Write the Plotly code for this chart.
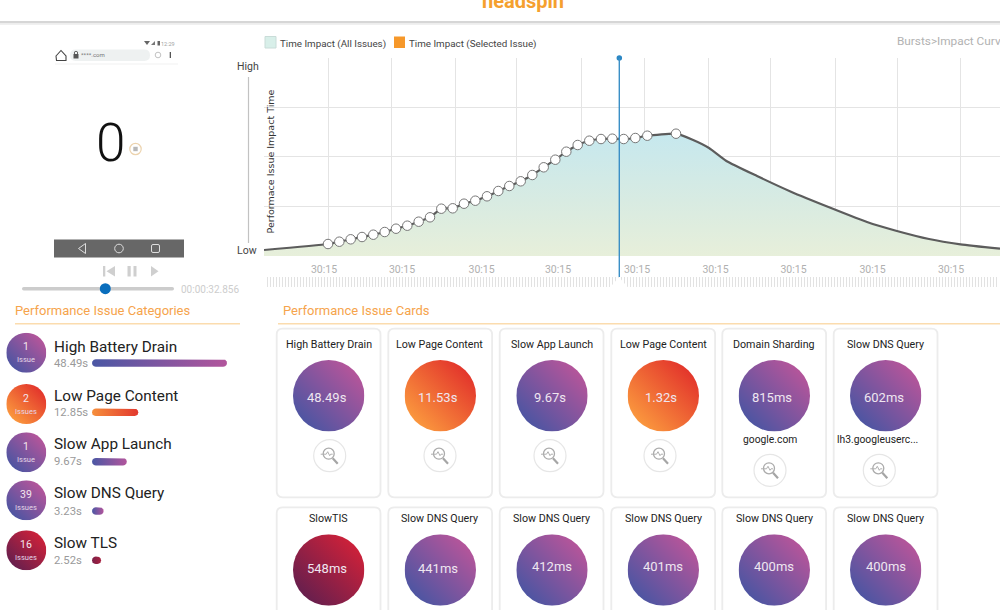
import base64
import math
import plotly.graph_objects as go

# === Data ===
# impact curve, time and impact in chart units
start_time = [0]
start_impact = [6]
marked_time = [64, 75.3, 86.7, 98, 109.3, 120.7, 132, 143.3, 154.7, 166, 177.3, 188.7, 200, 211.3, 223,
               234.3, 245.3, 256.7, 268.3, 279.7, 291.3, 302.3, 313.7, 325.3, 337, 348.3, 359.7, 371.3, 383.3, 412]
marked_impact = [12, 14.3, 16.7, 19, 21.3, 24, 27.3, 30.3, 34.3, 38.7, 47.3, 47.7, 52.3, 55.3, 59.7,
                 65, 70, 74.7, 81, 88.7, 96.3, 104.3, 111, 115.3, 117, 117.3, 117, 118, 120.3, 122.3]
tail_time = [428, 445, 462, 493, 527, 567, 603, 632, 665, 696.5, 736]
tail_impact = [116.5, 108, 95.3, 80, 64.3, 48, 34, 25.3, 17, 11.7, 7.3]
selected_time = 355.3
time_ticks = [60, 138, 217.6, 294, 373, 451.5, 529.5, 608.5, 687]
time_tick_labels = ["30:15"] * 9
time_grid = [64, 127, 191, 252.7, 317, 380, 444, 506, 571, 633, 696.5]
impact_grid = [49.7, 99.3, 149]

# categories on the left (the first bar stops short of its 48.49s)
category_names = ["High Battery Drain", "Low Page Content", "Slow App Launch", "Slow DNS Query", "Slow TLS"]
category_counts = ["1", "2", "1", "39", "16"]
category_units = ["Issue", "Issues", "Issue", "Issues", "Issues"]
category_times = ["48.49s", "12.85s", "9.67s", "3.23s", "2.52s"]
category_bars = [37.5, 12.85, 9.67, 3.23, 2.52]
category_kinds = ["purple", "orange", "purple", "purple", "crimson"]

# cards, two rows of six
card_titles = ["High Battery Drain", "Low Page Content", "Slow App Launch", "Low Page Content",
               "Domain Sharding", "Slow DNS Query",
               "SlowTIS", "Slow DNS Query", "Slow DNS Query", "Slow DNS Query", "Slow DNS Query", "Slow DNS Query"]
card_values = ["48.49s", "11.53s", "9.67s", "1.32s", "815ms", "602ms",
               "548ms", "441ms", "412ms", "401ms", "400ms", "400ms"]
card_kinds = ["purple", "orange", "purple", "orange", "purple", "purple",
              "crimson", "purple", "purple", "purple", "purple", "purple"]
card_hosts = ["", "", "", "", "google.com", "lh3.googleuserc...", "", "", "", "", "", ""]

palettes = {
    "purple": ("#4a55a2", "#b8559a"),
    "orange": ("#fb9a3e", "#e2322b"),
    "crimson": ("#641f4e", "#d02139"),
}
bar_palettes = {
    "purple": ("#4a57a4", "#b2559c"),
    "orange": ("#f68f3c", "#e2382e"),
    "crimson": ("#7a2049", "#a8213f"),
}

W, H = 1000, 610
ORANGE = "#f6a44c"
RULE = "#fbdcae"
FONT = "Roboto"

shapes = []
annotations = []
images = []


def label(x, y, text, size, color, anchor="left", angle=0, family=FONT, weight=None):
    annotations.append(dict(
        x=x, y=y, xref="x", yref="y", text=text, showarrow=False,
        xanchor=anchor, yanchor="middle", textangle=angle,
        font=dict(family=family, size=size, color=color, weight=weight),
        borderpad=0, borderwidth=0,
    ))


def rect(x0, y0, x1, y1, fill, line=None, width=0, layer="above"):
    shapes.append(dict(type="rect", xref="x", yref="y", x0=x0, y0=y0, x1=x1, y1=y1, fillcolor=fill,
                       line=dict(color=line or fill, width=width), layer=layer))


def circle(cx, cy, r, fill="rgba(0,0,0,0)", line="rgba(0,0,0,0)", width=1, layer="above"):
    shapes.append(dict(type="circle", xref="x", yref="y", x0=cx - r, y0=cy - r, x1=cx + r, y1=cy + r,
                       fillcolor=fill, line=dict(color=line, width=width), layer=layer))


def path(d, fill="rgba(0,0,0,0)", line="rgba(0,0,0,0)", width=1, layer="above"):
    shapes.append(dict(type="path", xref="x", yref="y", path=d, fillcolor=fill,
                       line=dict(color=line, width=width), layer=layer))


def rounded(x0, y0, x1, y1, r):
    return (f"M {x0 + r} {y0} L {x1 - r} {y0} Q {x1} {y0} {x1} {y0 + r} L {x1} {y1 - r} Q {x1} {y1} {x1 - r} {y1} "
            f"L {x0 + r} {y1} Q {x0} {y1} {x0} {y1 - r} L {x0} {y0 + r} Q {x0} {y0} {x0 + r} {y0} Z")


def disc(cx, cy, r, kind):
    low, high = palettes[kind]
    svg = ('<svg xmlns="http://www.w3.org/2000/svg" viewBox="0 0 100 100"><defs>'
           '<linearGradient id="g" x1="0.12" y1="0.88" x2="0.88" y2="0.12">'
           f'<stop offset="0" stop-color="{low}"/><stop offset="1" stop-color="{high}"/>'
           '</linearGradient></defs><circle cx="50" cy="50" r="50" fill="url(#g)"/></svg>')
    src = "data:image/svg+xml;base64," + base64.b64encode(svg.encode()).decode()
    images.append(dict(source=src, xref="paper", yref="paper", x=(cx - r) / W, y=1 - (cy - r) / H,
                       sizex=2 * r / W, sizey=2 * r / H, xanchor="left", yanchor="top",
                       sizing="stretch", layer="above"))


def rounded_bar(value, row):
    # bar outline in the axis units of the category panel, 1 unit = 3.6 px across, 49.3 px down
    rx, ry = 3.75 / 3.6, 3.75 / 49.3
    xs, ys = [], []
    for deg in range(90, 271, 30):
        xs.append(rx + rx * math.cos(math.radians(deg)))
        ys.append(row + ry * math.sin(math.radians(deg)))
    for deg in range(270, 451, 30):
        xs.append(value - rx + rx * math.cos(math.radians(deg)))
        ys.append(row + ry * math.sin(math.radians(deg)))
    return xs + xs[:1], ys + ys[:1]


def zoom_button(cx, cy):
    circle(cx, cy, 16, fill="white", line="#e6e6e6", width=1.2)
    circle(cx - 1, cy - 2, 5.5, line="#ababab", width=1.3)
    path(f"M {cx + 3} {cy + 2.5} L {cx + 8} {cy + 8}", line="#a5a5a5", width=2.2)
    path(f"M {cx - 9} {cy - 1.5} L {cx - 3.5} {cy - 1.5} L {cx - 2} {cy - 4} L {cx} {cy} L {cx + 1} {cy - 1.5} L {cx + 3} {cy - 1.5}",
         line="#b0b0b0", width=1)


fig = go.Figure()

# === Header ===
label(523, 1, "headspin", 20, "#f5a02e", anchor="center", weight="bold")
rect(0, 21, W, 23.5, "#d6d6d6")
rect(0, 23.5, W, 25, "#f0f0f0")

# === Phone preview ===
path("M 144 41 L 150 41 L 147 45 Z", fill="#666666")
path("M 151 45 L 155 41 L 155 45 Z", fill="#777777")
rect(157.5, 41, 160, 45.5, "#666666")
label(168, 43.5, "12:29", 5.5, "#a0a0a0", anchor="center")
path("M 56 56 L 61 50.5 L 66 56 L 66 60.5 L 56.5 60.5 Z", fill="white", line="#444444", width=1.1)
path(rounded(70, 49.5, 150, 61, 5.7), fill="#eef1f1")
rect(73.5, 54, 78.5, 58.5, "#555555")
circle(76, 53, 1.7, line="#555555", width=0.9)
label(81, 54.5, "****.com", 6, "#777777")
circle(158, 55, 2.8, line="#bbbbbb", width=0.9)
rect(169.7, 52, 171, 58, "#555555")
path("M 55 64 L 178 64", line="#f1f1f1", width=1.2)
label(110, 143, "0", 53, "#111111", anchor="center", weight=300)
circle(135.5, 149, 5.7, fill="white", line="#ecd3ae", width=1.2)
rect(133.3, 146.8, 137.7, 151.2, "#b8b8b8")
rect(54, 239.5, 184, 257.5, "#676767")
path("M 85.5 243.5 L 78.5 248.5 L 85.5 253.5 Z", line="#dddddd", width=1)
circle(119, 248.5, 4.3, line="#dddddd", width=1)
path(rounded(151.5, 244.5, 159.5, 252.5, 1.5), line="#dddddd", width=1)
# player buttons
rect(103, 266, 105.3, 276.5, "#cfcfcf")
path("M 115 266 L 106.5 271.2 L 115 276.5 Z", fill="#cfcfcf")
rect(127.5, 266, 130.7, 276.5, "#cfcfcf")
rect(133.5, 266, 136.5, 276.5, "#cfcfcf")
path("M 151 266 L 158.5 271.2 L 151 276.5 Z", fill="#cfcfcf")
path(rounded(22, 287, 174, 290.5, 1.7), fill="#cccccc", layer="below")
label(181, 289, "00:00:32.856", 10, "#cdcdcd")
fig.add_trace(go.Scatter(x=[105.3], y=[288.7], mode="markers", xaxis="x", yaxis="y", hoverinfo="skip", showlegend=False,
                         marker=dict(size=11, color="#0a6ebd", line=dict(width=0))))

# === Impact curve ===
rect(265, 36.5, 276, 48, "#d8efe9", line="#c9dcd8", width=1)
label(280, 43.5, "Time Impact (All Issues)", 9.8, "#444444")
rect(394, 36.5, 405, 48, "#f6982a")
label(409, 43.5, "Time Impact (Selected Issue)", 9.8, "#444444")
label(897, 41, "Bursts&gt;Impact Curve", 11.8, "#b2b2b2")
label(248, 66, "High", 10.5, "#444444", anchor="center")
label(247, 250, "Low", 10.5, "#444444", anchor="center")
path("M 248.5 77 L 248.5 243", line="#c2c2c2", width=1.2)
label(269.5, 162, "Performace Issue Impact Time", 9.5, "#333333", anchor="center", angle=-90, family="DejaVu Sans")

curve_time = start_time + marked_time + tail_time
curve_impact = start_impact + marked_impact + tail_impact
fig.add_trace(go.Scatter(
    x=curve_time, y=curve_impact, xaxis="x2", yaxis="y2", mode="lines", fill="tozeroy",
    line=dict(color="#5c5c5c", width=2.2, shape="spline", smoothing=0.5),
    fillgradient=dict(type="vertical", start=0, stop=122,
                      colorscale=[[0, "#e7efda"], [0.45, "#d8ebe2"], [1, "#c6e8ee"]]),
    hoverinfo="skip", showlegend=False,
))
fig.add_trace(go.Scatter(
    x=marked_time, y=marked_impact, xaxis="x2", yaxis="y2", mode="markers",
    marker=dict(size=9.5, color="white", line=dict(color="#777777", width=1)),
    hoverinfo="skip", showlegend=False,
))
# selected time: the line runs on down to the tick rail, so it lives on the page axes (x2 has 1 unit = 1 px from 264)
path(f"M {264 + selected_time} 58 L {264 + selected_time} 277", line="#3b8fc6", width=1.4)
fig.add_trace(go.Scatter(
    x=[selected_time], y=[198], xaxis="x2", yaxis="y2", mode="markers", cliponaxis=False,
    marker=dict(size=5.5, color="#2b87c4"), hoverinfo="skip", showlegend=False,
))
# the rail of small ticks under the chart, the notch sits under the selected time
fig.add_trace(go.Scatter(x=[0], y=[0], xaxis="x4", yaxis="y4", mode="markers", marker=dict(size=1, opacity=0),
                         hoverinfo="skip", showlegend=False))
path("M 610 287.5 L 619 277 L 628 287.5 Z", fill="white")

# === Categories ===
label(15, 310, "Performance Issue Categories", 13, ORANGE)
path("M 15 323.7 L 240 323.7", line=RULE, width=1.5)
name_rows = [346.7, 395.7, 444, 493.3, 543]
time_rows = [363, 412.7, 461.3, 511, 560.3]
disc_rows = [352.7, 404, 452.3, 500.3, 550.3]
for i, name in enumerate(category_names):
    disc(26.3, disc_rows[i], 20, category_kinds[i])
    label(26.3, disc_rows[i] - 6, category_counts[i], 10.5, "#f3e6ef", anchor="center")
    label(26.3, disc_rows[i] + 7, category_units[i], 7.5, "#e6d6e6", anchor="center")
    label(54, name_rows[i], name, 15.3, "#222222")
    label(54, time_rows[i], category_times[i], 11.3, "#9a9a9a")
    xs, ys = rounded_bar(category_bars[i], i)
    low, high = bar_palettes[category_kinds[i]]
    fig.add_trace(go.Scatter(
        x=xs, y=ys, xaxis="x3", yaxis="y3", mode="lines", fill="toself", line=dict(width=0),
        fillgradient=dict(type="horizontal", colorscale=[[0, low], [1, high]]),
        hoverinfo="skip", showlegend=False,
    ))

# === Cards ===
label(283, 310, "Performance Issue Cards", 13, ORANGE)
path("M 278 323.7 L 1000 323.7", line=RULE, width=1.5)
card_left = [276.7, 388.3, 499.7, 611.3, 722.3, 833.7]
card_disc_x = [328.7, 440.3, 552, 663.3, 774.3, 885.7]
card_title_x = [328.7, 439.7, 551.7, 663.3, 774, 885.7]
card_value_x = [326.7, 438, 549.7, 661.3, 772, 883.7, 326.7, 438.3, 551.7, 663.3, 774, 885.7]
card_value_y = [397] * 6 + [568.3, 568.3, 566.7, 566.7, 566.7, 566.7]
button_x = [329.7, 440, 550, 660, 770, 879.3]
button_y = [455.7, 455.7, 455.7, 455.7, 470.3, 470.3]
host_x = [0, 0, 0, 0, 769.7, 877]
for i, title in enumerate(card_titles):
    col, row = i % 6, i // 6
    top, bottom = (328.7, 497.3) if row == 0 else (507.3, 640)
    path(rounded(card_left[col], top, card_left[col] + 103.8, bottom, 6), fill="white", line="#ececec", width=1.8, layer="below")
    title_y = 344.3 if row == 0 else 518.3
    disc_y = 395.7 if row == 0 else 570
    label(card_title_x[col], title_y, title, 10.7, "#222222", anchor="center")
    disc(card_disc_x[col], disc_y, 35.7, card_kinds[i])
    label(card_value_x[i], card_value_y[i], card_values[i], 13, "#efe6f0", anchor="center")
    if row == 0:
        zoom_button(button_x[col], button_y[col])
        if card_hosts[i]:
            label(host_x[col], 439, card_hosts[i], 10.3, "#222222", anchor="center")

hidden = dict(visible=False, showgrid=False, zeroline=False)
fig.update_layout(
    width=W, height=H, margin=dict(l=0, r=0, t=0, b=0), autosize=False,
    paper_bgcolor="white", plot_bgcolor="rgba(0,0,0,0)", showlegend=False,
    shapes=shapes, annotations=annotations, images=images,
    font=dict(family=FONT),
    xaxis=dict(domain=[0, 1], range=[0, W], anchor="y", **hidden),
    yaxis=dict(domain=[0, 1], range=[H, 0], anchor="x", **hidden),
    xaxis2=dict(
        domain=[0.264, 1], range=[0, 736], anchor="y2", zeroline=False, showgrid=False, showline=False,
        tickmode="array", tickvals=time_ticks, ticktext=time_tick_labels,
        ticks="outside", ticklen=3, tickcolor="rgba(0,0,0,0)",
        tickfont=dict(family=FONT, size=10.5, color="#b0b0b0"),
        minor=dict(tickmode="array", tickvals=time_grid, showgrid=True, gridcolor="#e4e4e4", gridwidth=1, ticks=""),
    ),
    yaxis2=dict(
        domain=[1 - 256 / H, 1 - 58 / H], range=[0, 198], anchor="x2", zeroline=False, showline=False,
        tickmode="array", tickvals=impact_grid, showticklabels=False, gridcolor="#e4e4e4", gridwidth=1,
    ),
    xaxis3=dict(domain=[0.092, 0.24], range=[0, 41.11], anchor="y3", **hidden),
    yaxis3=dict(domain=[1 - 585 / H, 1 - 338.35 / H], range=[4.5, -0.5], anchor="x3", **hidden),
    xaxis4=dict(
        domain=[0.264, 1], range=[0, 736], anchor="y4", zeroline=False, showgrid=False, showline=False,
        showticklabels=False, ticks="inside", dtick=3, ticklen=10, tickwidth=1, tickcolor="#e2e2e2",
    ),
    yaxis4=dict(domain=[1 - 287 / H, 1 - 277 / H], range=[0, 1], anchor="x4", **hidden),
)

fig.write_html("out.html", config=dict(displayModeBar=False),
               post_script="document.body.style.margin='0';document.body.style.overflow='hidden';")
